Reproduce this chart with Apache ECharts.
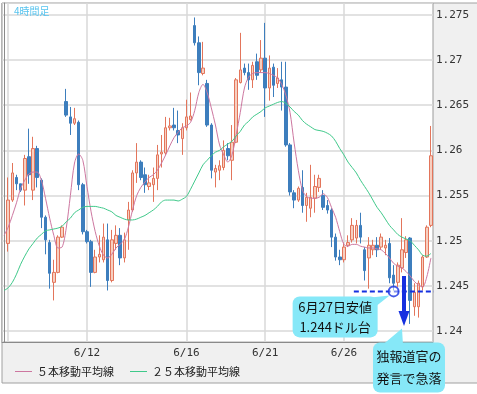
<!DOCTYPE html>
<html><head><meta charset="utf-8">
<script src="https://cdn.jsdelivr.net/npm/echarts@6/dist/echarts.min.js"></script>
<style>html,body{margin:0;padding:0;background:#fff;}#chart{width:477px;height:394px;}</style>
</head><body><div id="chart"></div>
<script>
// 4-hour candles (index 0 is an empty slot at the left edge)
const opens = [null,
 1.2497,1.2545,1.2570,1.2563,1.2556,1.2593,1.2556,1.2602,1.2567,1.2526,
 1.2498,1.2454,1.2465,1.2504,1.2654,1.2637,1.2630,1.2631,1.2562,1.2510,
 1.2499,1.2465,1.2482,1.2479,1.2501,1.2456,1.2497,1.2506,1.2481,1.2523,
 1.2534,1.2575,1.2587,1.2573,1.2560,1.2562,1.2569,1.2596,1.2597,1.2625,
 1.2628,1.2622,1.2613,1.2625,1.2634,1.2738,1.2719,1.2685,1.2674,1.2628,
 1.2576,1.2578,1.2581,1.2602,1.2589,1.2609,1.2675,1.2691,1.2686,1.2678,
 1.2698,1.2689,1.2702,1.2669,1.2692,1.2674,1.2678,1.2670,1.2606,1.2553,
 1.2545,1.2559,1.2539,1.2536,1.2547,1.2559,1.2550,1.2539,1.2534,1.2504,
 1.2482,1.2479,1.2495,1.2501,1.2503,1.2517,1.2490,1.2481,1.2490,1.2495,
 1.2493,1.2492,1.2497,1.2462,1.2454,1.2470,1.2487,1.2503,1.2427,1.2427,
 1.2449,1.2482,1.2517];
const closes = [null,
 1.2545,1.2575,1.2563,1.2556,1.2591,1.2573,1.2602,1.2570,1.2526,1.2501,
 1.2464,1.2465,1.2504,1.2515,1.2639,1.2630,1.2635,1.2562,1.2510,1.2499,
 1.2465,1.2482,1.2485,1.2504,1.2456,1.2501,1.2506,1.2481,1.2501,1.2534,
 1.2575,1.2587,1.2570,1.2562,1.2564,1.2569,1.2595,1.2598,1.2625,1.2627,
 1.2625,1.2617,1.2625,1.2637,1.2638,1.2719,1.2686,1.2691,1.2628,1.2578,
 1.2580,1.2583,1.2600,1.2594,1.2609,1.2678,1.2689,1.2686,1.2678,1.2694,
 1.2683,1.2702,1.2669,1.2691,1.2672,1.2680,1.2670,1.2606,1.2554,1.2545,
 1.2558,1.2539,1.2548,1.2548,1.2560,1.2569,1.2537,1.2534,1.2504,1.2482,
 1.2479,1.2493,1.2498,1.2517,1.2517,1.2504,1.2467,1.2495,1.2495,1.2490,
 1.2504,1.2495,1.2459,1.2453,1.2473,1.2490,1.2501,1.2434,1.2443,1.2453,
 1.2482,1.2515,1.2594];
const lows = [null,
 1.2488,1.2543,1.2556,1.2554,1.2539,1.2563,1.2545,1.2559,1.2514,1.2485,
 1.2447,1.2434,1.2464,1.2503,1.2637,1.2617,1.2628,1.2556,1.2507,1.2497,
 1.2449,1.2464,1.2476,1.2476,1.2445,1.2454,1.2490,1.2473,1.2476,1.2490,
 1.2532,1.2564,1.2567,1.2553,1.2556,1.2543,1.2556,1.2581,1.2595,1.2622,
 1.2622,1.2608,1.2595,1.2622,1.2633,1.2716,1.2672,1.2683,1.2626,1.2569,
 1.2559,1.2567,1.2578,1.2589,1.2567,1.2608,1.2674,1.2683,1.2667,1.2669,
 1.2678,1.2686,1.2637,1.2655,1.2659,1.2669,1.2644,1.2604,1.2550,1.2536,
 1.2543,1.2531,1.2521,1.2526,1.2531,1.2554,1.2534,1.2530,1.2493,1.2478,
 1.2473,1.2476,1.2493,1.2498,1.2497,1.2497,1.2456,1.2447,1.2484,1.2482,
 1.2490,1.2484,1.2453,1.2445,1.2449,1.2465,1.2481,1.2408,1.2417,1.2415,
 1.2445,1.2481,1.2515];
const highs = [null,
 1.2570,1.2586,1.2573,1.2563,1.2595,1.2624,1.2615,1.2605,1.2569,1.2528,
 1.2501,1.2479,1.2506,1.2517,1.2668,1.2648,1.2647,1.2633,1.2564,1.2512,
 1.2501,1.2490,1.2506,1.2519,1.2519,1.2512,1.2517,1.2514,1.2509,1.2543,
 1.2578,1.2608,1.2589,1.2581,1.2573,1.2581,1.2606,1.2617,1.2637,1.2636,
 1.2647,1.2644,1.2630,1.2656,1.2664,1.2747,1.2726,1.2720,1.2678,1.2630,
 1.2584,1.2589,1.2611,1.2608,1.2628,1.2680,1.2730,1.2696,1.2696,1.2698,
 1.2707,1.2722,1.2741,1.2705,1.2696,1.2691,1.2698,1.2698,1.2608,1.2556,
 1.2560,1.2578,1.2553,1.2584,1.2573,1.2573,1.2556,1.2545,1.2536,1.2508,
 1.2490,1.2498,1.2506,1.2525,1.2523,1.2531,1.2493,1.2504,1.2501,1.2504,
 1.2508,1.2501,1.2503,1.2473,1.2476,1.2525,1.2505,1.2504,1.2453,1.2456,
 1.2484,1.2517,1.2627];
// moving averages
const ma5 = [
 1.2506,1.2515,1.2528,1.2542,1.2558,1.2567,1.2574,1.2576,1.2576,1.2567,
 1.2547,1.2525,1.2506,1.2492,1.2493,1.2514,1.2550,1.2586,1.2596,1.2589,
 1.2560,1.2532,1.2510,1.2494,1.2484,1.2481,1.2485,1.2492,1.2496,1.2501,
 1.2515,1.2534,1.2550,1.2559,1.2565,1.2570,1.2573,1.2578,1.2586,1.2595,
 1.2605,1.2614,1.2620,1.2625,1.2627,1.2631,1.2644,1.2664,1.2673,1.2664,
 1.2647,1.2628,1.2606,1.2595,1.2587,1.2595,1.2617,1.2642,1.2669,1.2681,
 1.2685,1.2686,1.2686,1.2686,1.2685,1.2683,1.2680,1.2673,1.2661,1.2642,
 1.2608,1.2578,1.2556,1.2549,1.2547,1.2547,1.2548,1.2552,1.2548,1.2537,
 1.2526,1.2510,1.2496,1.2494,1.2496,1.2496,1.2494,1.2493,1.2492,1.2492,
 1.2491,1.2490,1.2486,1.2481,1.2475,1.2472,1.2470,1.2466,1.2461,1.2455,
 1.2451,1.2449,1.2460,1.2481];
const ma25 = [
 1.2445,1.2448,1.2454,1.2463,1.2474,1.2483,1.2491,1.2497,1.2503,1.2507,
 1.2511,1.2512,1.2513,1.2514,1.2516,1.2521,1.2525,1.2531,1.2534,1.2537,
 1.2538,1.2538,1.2538,1.2537,1.2536,1.2534,1.2532,1.2528,1.2526,1.2524,
 1.2523,1.2523,1.2524,1.2526,1.2528,1.2531,1.2534,1.2538,1.2543,1.2545,
 1.2545,1.2545,1.2544,1.2546,1.2549,1.2557,1.2566,1.2575,1.2584,1.2589,
 1.2594,1.2598,1.2600,1.2604,1.2607,1.2610,1.2616,1.2621,1.2628,1.2632,
 1.2637,1.2640,1.2643,1.2647,1.2649,1.2651,1.2653,1.2654,1.2652,1.2648,
 1.2643,1.2639,1.2633,1.2629,1.2626,1.2623,1.2622,1.2621,1.2619,1.2616,
 1.2610,1.2602,1.2595,1.2587,1.2581,1.2575,1.2567,1.2560,1.2553,1.2545,
 1.2537,1.2531,1.2524,1.2517,1.2512,1.2507,1.2504,1.2502,1.2500,1.2495,
 1.2490,1.2484,1.2483,1.2486];
// x axis: grid lines at day starts, labels below
const gridIndex = [1, 20, 44, 63, 82];
const dateIndex = [20, 44, 63, 82];
const dateLabels = ['6/12', '6/16', '6/21', '6/26'];
const seriesNames = ['５本移動平均線', '２５本移動平均線'];
// annotations (x in candle-index units)
const lowMark = {index: 94, value: 1.2444, lineFrom: 84.4, lineTo: 104.5, text: '6月27日安値\n1.244ドル台'};
const dropArrow = {index: 96.5, from: 1.2461, to: 1.2414, text: '独報道官の\n発言で急落'};
const frameTitle = '4時間足';

const categories = opens.map((_, i) => String(i));
const candles = opens.map((o, i) => o == null ? ['-', '-', '-', '-'] : [o, closes[i], lows[i], highs[i]]);
const labelMap = {};
dateIndex.forEach((d, k) => { labelMap[d] = dateLabels[k]; });

const BLUE = '#1530e0';
const MONO = 'DejaVu Sans Mono';
const JP = 'Noto Sans CJK JP';

const chart = echarts.init(document.getElementById('chart'));
const option = {
  animation: false,
  backgroundColor: '#fff',
  grid: {left: 2, top: 3, right: 44, bottom: 52, show: true, backgroundColor: '#fff', borderColor: '#9a9a9a', borderWidth: 1},
  legend: {
    left: 15, top: 366, padding: 0, itemWidth: 17, itemHeight: 1, itemGap: 16, icon: 'rect',
    data: seriesNames,
    textStyle: {fontFamily: JP, fontSize: 11, color: '#222'}
  },
  xAxis: [{
    type: 'category', data: categories, boundaryGap: true,
    axisLine: {show: true, lineStyle: {color: '#8a8a8a'}},
    axisTick: {show: false},
    axisLabel: {
      interval: (idx) => labelMap[idx] !== undefined,
      formatter: (v, idx) => labelMap[idx] || '',
      fontFamily: MONO, fontSize: 11, color: '#333', margin: 6
    },
    splitLine: {show: true, alignWithLabel: true, interval: (idx) => gridIndex.includes(idx), lineStyle: {color: '#d9d9d9', width: 1.5}}
  }, {
    type: 'value', min: -0.5, max: categories.length - 0.5, show: false
  }],
  yAxis: {
    type: 'value', position: 'right', min: 1.2388, max: 1.2763, splitNumber: 7, scale: true,
    axisLine: {show: true, lineStyle: {color: '#8a8a8a'}},
    axisTick: {show: false},
    axisLabel: {showMinLabel: false, showMaxLabel: false, fontFamily: MONO, fontSize: 11, color: '#333', margin: 3},
    splitLine: {show: true, lineStyle: {color: '#d9d9d9', width: 1.5}}
  },
  series: [
    {
      type: 'candlestick', data: candles, barWidth: 3,
      itemStyle: {color: '#f7cfc0', color0: '#3d7ebd', borderColor: '#e3755b', borderColor0: '#3d7ebd', borderWidth: 1}
    },
    {name: seriesNames[0], type: 'line', data: ma5, symbol: 'none', smooth: 0.3, lineStyle: {color: '#cd77a0', width: 1}, itemStyle: {color: '#cd77a0'}},
    {name: seriesNames[1], type: 'line', data: ma25, symbol: 'none', smooth: 0.3, lineStyle: {color: '#3fc98a', width: 1}, itemStyle: {color: '#3fc98a'}},
    {type: 'line', xAxisIndex: 1, z: 4, data: [[lowMark.lineFrom, lowMark.value], [lowMark.lineTo, lowMark.value]], symbol: 'none', clip: true,
     lineStyle: {color: BLUE, width: 2, type: [5, 3]}},
    {type: 'line', xAxisIndex: 1, z: 6, clip: false, showSymbol: true,
     data: [{value: [dropArrow.index, dropArrow.from], symbol: 'none'},
            {value: [dropArrow.index, dropArrow.to], symbol: 'triangle', symbolSize: [11, 15], symbolRotate: 180}],
     lineStyle: {color: BLUE, width: 4}, itemStyle: {color: BLUE}},
    {type: 'scatter', xAxisIndex: 1, data: [[lowMark.index, lowMark.value]], symbol: 'circle', symbolSize: 10, z: 5,
     itemStyle: {color: 'rgba(255,255,255,0.6)', borderColor: BLUE, borderWidth: 2}}
  ]
};
chart.setOption(option);

const pLow = chart.convertToPixel({xAxisIndex: 1, yAxisIndex: 0}, [lowMark.index, lowMark.value]);
const pTip = chart.convertToPixel({xAxisIndex: 1, yAxisIndex: 0}, [dropArrow.index, dropArrow.to]);
const CALLOUT = '#86e8f8';
const b1 = {x: pLow[0] - 101, y: pLow[1] + 5, w: 85, h: 41};
const b2 = {x: pTip[0] - 31, y: pTip[1] + 24, w: 72, h: 50};
chart.setOption({
  graphic: [
    {type: 'rect', z: -10, shape: {x: 2, y: 3, width: 480, height: 380}, style: {fill: '#f0f0f0', stroke: '#a0a0a0', lineWidth: 1}},
    {type: 'text', left: 14, top: 6, z: 10, style: {text: frameTitle, fill: '#56c3ee', font: '10px ' + JP}},
    {type: 'polygon', z: 20, shape: {points: [[b1.x + b1.w - 16, b1.y + 2], [pLow[0] - 4, pLow[1] + 4], [b1.x + b1.w - 2, b1.y + 10]]}, style: {fill: CALLOUT}},
    {type: 'rect', z: 20, shape: {x: b1.x, y: b1.y, width: b1.w, height: b1.h, r: 7}, style: {fill: CALLOUT}},
    {type: 'text', z: 21, x: b1.x + b1.w / 2, y: b1.y + b1.h / 2, style: {text: lowMark.text, fill: '#111', font: '13px ' + JP, align: 'center', verticalAlign: 'middle', lineHeight: 20}},
    {type: 'polygon', z: 20, shape: {points: [[b2.x + 10, b2.y + 2], [pTip[0] - 2, pTip[1] + 10], [b2.x + 30, b2.y + 2]]}, style: {fill: CALLOUT}},
    {type: 'rect', z: 20, shape: {x: b2.x, y: b2.y, width: b2.w, height: b2.h, r: 7}, style: {fill: CALLOUT}},
    {type: 'text', z: 21, x: b2.x + b2.w / 2, y: b2.y + b2.h / 2, style: {text: dropArrow.text, fill: '#111', font: '13px ' + JP, align: 'center', verticalAlign: 'middle', lineHeight: 22}}
  ]
});
</script>
</body></html>
